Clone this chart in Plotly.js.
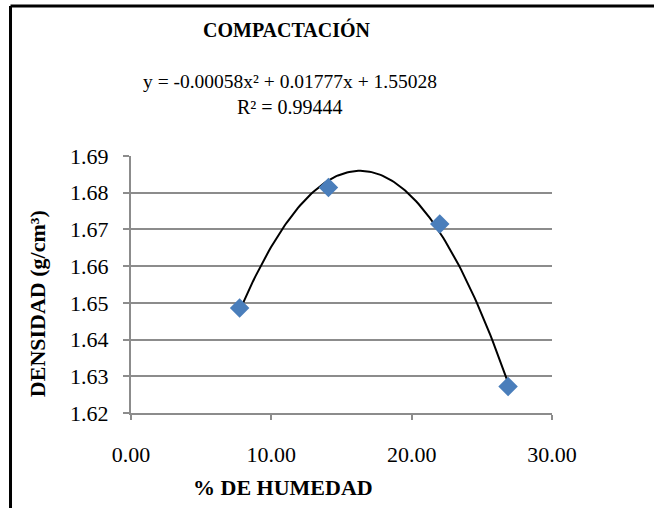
<!DOCTYPE html>
<html>
<head>
<meta charset="utf-8">
<script src="https://cdn.plot.ly/plotly-3.0.1.min.js"></script>
<style>html,body{margin:0;padding:0;background:#fff;}#chart{width:654px;height:508px;}</style>
</head>
<body>
<div id="chart"></div>
<script>
// Data
var humedad = [7.74, 14.07, 22.0, 26.87];
var densidad = [1.6486, 1.6814, 1.6715, 1.6272];
var xTickVals = [0, 10, 20, 30];
var xTickText = ["0.00", "10.00", "20.00", "30.00"];
var yTickVals = [1.62, 1.63, 1.64, 1.65, 1.66, 1.67, 1.68, 1.69];
var yTickText = ["1.62", "1.63", "1.64", "1.65", "1.66", "1.67", "1.68", "1.69"];
var chartTitle = "COMPACTACIÓN";
var eqText = "y = -0.00058x² + 0.01777x + 1.55028";
var r2Text = "R² = 0.99444";
var xTitle = "% DE HUMEDAD";
var yTitle = "DENSIDAD (g/cm³)";

// Least-squares quadratic trendline (polynomial order 2) from the data
function polyfit2(xs, ys) {
  var n = xs.length, s = [0,0,0,0,0], t = [0,0,0];
  for (var i = 0; i < n; i++) {
    var p = 1;
    for (var k = 0; k < 5; k++) { s[k] += p; if (k < 3) t[k] += p * ys[i]; p *= xs[i]; }
  }
  var A = [[s[0], s[1], s[2], t[0]], [s[1], s[2], s[3], t[1]], [s[2], s[3], s[4], t[2]]];
  for (var c = 0; c < 3; c++) {
    for (var r = c + 1; r < 3; r++) {
      var f = A[r][c] / A[c][c];
      for (var j = c; j < 4; j++) A[r][j] -= f * A[c][j];
    }
  }
  var coef = [0,0,0];
  for (var r2 = 2; r2 >= 0; r2--) {
    var v = A[r2][3];
    for (var j2 = r2 + 1; j2 < 3; j2++) v -= A[r2][j2] * coef[j2];
    coef[r2] = v / A[r2][r2];
  }
  return coef;
}
var cf = polyfit2(humedad, densidad);
var xmin = Math.min.apply(null, humedad), xmax = Math.max.apply(null, humedad);
var tx = [], ty = [];
for (var i = 0; i <= 120; i++) {
  var xv = xmin + (xmax - xmin) * i / 120;
  tx.push(xv); ty.push(cf[0] + cf[1] * xv + cf[2] * xv * xv);
}

var font = "Liberation Serif";
var traces = [
  {x: tx, y: ty, mode: "lines", line: {color: "#000000", width: 2}, hoverinfo: "skip", showlegend: false},
  {x: humedad, y: densidad, mode: "markers", marker: {symbol: "diamond", size: 15, color: "#4a7ebb"}, showlegend: false}
];
var layout = {
  width: 654, height: 508,
  margin: {l: 131, r: 102, t: 156, b: 95},
  paper_bgcolor: "#ffffff", plot_bgcolor: "#ffffff",
  font: {family: font, color: "#000000", size: 19},
  showlegend: false,
  xaxis: {
    range: [0, 30], tickvals: xTickVals, ticktext: xTickText,
    showgrid: false, zeroline: false, showline: true, linecolor: "#8c8c8c", linewidth: 2,
    ticks: "outside", ticklen: 5, tickcolor: "#8c8c8c", tickwidth: 2,
    ticklabelstandoff: 16, tickfont: {family: font, size: 22, color: "#000"}
  },
  yaxis: {
    range: [1.62, 1.69], tickvals: yTickVals, ticktext: yTickText,
    showgrid: true, gridcolor: "#8c8c8c", gridwidth: 2, zeroline: false,
    showline: true, linecolor: "#8c8c8c", linewidth: 2,
    ticks: "outside", ticklen: 6, tickcolor: "#8c8c8c", tickwidth: 2,
    ticklabelstandoff: 10, tickfont: {family: font, size: 22, color: "#000"}
  },
  annotations: [
    {text: "<b>" + chartTitle + "</b>", xref: "paper", yref: "paper", x: 0.371, y: 1.492, showarrow: false, xanchor: "center", yanchor: "middle", font: {family: font, size: 20}},
    {text: eqText, xref: "paper", yref: "paper", x: 0.378, y: 1.288, showarrow: false, xanchor: "center", yanchor: "middle", font: {family: font, size: 19.5}},
    {text: r2Text, xref: "paper", yref: "paper", x: 0.378, y: 1.19, showarrow: false, xanchor: "center", yanchor: "middle", font: {family: font, size: 20}},
    {text: "<b>" + xTitle + "</b>", xref: "paper", yref: "paper", x: 0.361, y: -0.29, showarrow: false, xanchor: "center", yanchor: "middle", font: {family: font, size: 22}},
    {text: "<b>" + yTitle + "</b>", xref: "paper", yref: "paper", x: -0.223, y: 0.424, showarrow: false, xanchor: "center", yanchor: "middle", textangle: -90, font: {family: font, size: 22}}
  ],
  shapes: [
    {type: "line", xref: "paper", yref: "paper", x0: -0.2862, x1: 1.3, y0: 1.5837, y1: 1.5837, line: {color: "#000", width: 3}},
    {type: "line", xref: "paper", yref: "paper", x0: -0.2862, x1: -0.2862, y0: 1.5837, y1: -0.5, line: {color: "#000", width: 3}}
  ]
};
Plotly.newPlot("chart", traces, layout, {displayModeBar: false, staticPlot: true});
</script>
</body>
</html>
